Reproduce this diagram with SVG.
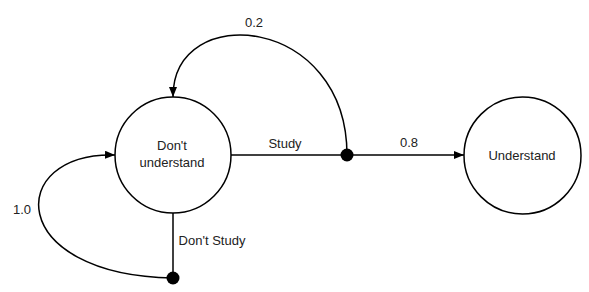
<svg xmlns="http://www.w3.org/2000/svg" width="589" height="292" viewBox="0 0 589 292">
<style>
.node{fill:#fff;stroke:#000;stroke-width:1.5}
.edge{fill:none;stroke:#000;stroke-width:1.5}
.dot{fill:#000}
text{font-family:"Liberation Sans",Arial,sans-serif;font-size:13px;fill:#222;text-anchor:middle}
</style>
<defs>
<marker id="arr" viewBox="0 0 10 8" refX="10" refY="4" markerWidth="10" markerHeight="8" markerUnits="userSpaceOnUse" orient="auto">
<path d="M0,0 L10,4 L0,8 Z" fill="#000"/>
</marker>
</defs>
<rect width="589" height="292" fill="#fff"/>
<g id="connectors">
<path class="edge" d="M231,155 L347,155"/>
<path class="edge" d="M347,155 L464,155" marker-end="url(#arr)"/>
<path class="edge" d="M347,155 C347,15 173,0 173,97" marker-end="url(#arr)"/>
<path class="edge" d="M173,213 L173,278"/>
<path class="edge" d="M173,278 C5,275 5,152 115,155" marker-end="url(#arr)"/>
<text x="285" y="148">Study</text>
<text x="409" y="147">0.8</text>
<text x="254" y="27">0.2</text>
<text x="212" y="245">Don't Study</text>
<text x="22" y="214">1.0</text>
</g>
<g id="dont-understand">
<circle class="node" cx="173" cy="155" r="58"/>
<text x="172" y="150">Don't</text>
<text x="172" y="167">understand</text>
</g>
<g id="understand">
<circle class="node" cx="522.5" cy="155.5" r="58.5"/>
<text x="522" y="160">Understand</text>
</g>
<g id="study-choice">
<circle class="dot" cx="347" cy="155" r="6.5"/>
</g>
<g id="dont-study-choice">
<circle class="dot" cx="173" cy="278" r="6.5"/>
</g>
</svg>
